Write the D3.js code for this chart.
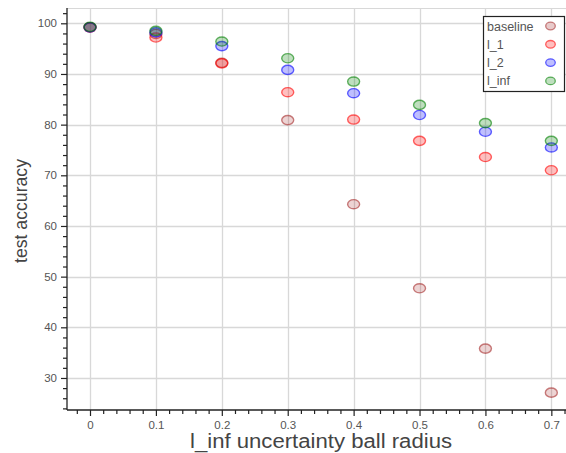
<!DOCTYPE html>
<html><head><meta charset="utf-8">
<script src="https://cdn.jsdelivr.net/npm/d3@7"></script>
<style>body{margin:0;background:#fff}svg{display:block;font-family:"Liberation Sans",Arial,Helvetica,sans-serif}</style>
</head><body><svg id="c" width="566" height="453"></svg>
<script>
const radii = [0, 0.1, 0.2, 0.3, 0.4, 0.5, 0.6, 0.7];
const baseline = [99.2, 97.9, 92.2, 80.9, 64.3, 47.7, 35.8, 27.1];
const l1 = [99.2, 97.2, 92.1, 86.4, 81.0, 76.8, 73.6, 71.0];
const l2 = [99.2, 98.2, 95.5, 90.8, 86.2, 81.9, 78.6, 75.5];
const linf = [99.3, 98.5, 96.4, 93.1, 88.5, 83.9, 80.3, 76.8];
const seriesNames = ["baseline", "l_1", "l_2", "l_inf"];
const seriesColors = ["#a52a2a", "#ff0000", "#0000ff", "#008000"];
const xTicks = [0, 0.1, 0.2, 0.3, 0.4, 0.5, 0.6, 0.7];
const xTickLabels = ["0", "0.1", "0.2", "0.3", "0.4", "0.5", "0.6", "0.7"];
const yTicks = [30, 40, 50, 60, 70, 80, 90, 100];
const yTickLabels = ["30", "40", "50", "60", "70", "80", "90", "100"];
const xLabel = "l_inf uncertainty ball radius";
const yLabel = "test accuracy";

const series = [baseline, l1, l2, linf];
const svg = d3.select("#c");
const L = 67, R = 575, T = 8, B = 410;
const x = d3.scaleLinear().domain([-0.0349, 0.7359]).range([L, R]);
const y = d3.scaleLinear().domain([23.68, 103.02]).range([B, T]);

// grid
const g = svg.append("g");
g.selectAll("line.vg").data(xTicks).join("line")
  .attr("x1", d => Math.round(x(d)) + 0.5).attr("x2", d => Math.round(x(d)) + 0.5)
  .attr("y1", T).attr("y2", B).attr("stroke", "#d8d8d8").attr("stroke-width", 1.3);
g.selectAll("line.hg").data(yTicks).join("line")
  .attr("y1", d => Math.round(y(d)) + 0.5).attr("y2", d => Math.round(y(d)) + 0.5)
  .attr("x1", L).attr("x2", R).attr("stroke", "#d8d8d8").attr("stroke-width", 1.3);
// frame top
svg.append("line").attr("x1", L).attr("x2", R).attr("y1", T + 0.5).attr("y2", T + 0.5).attr("stroke", "#d8d8d8");

// axes
const xAxis = d3.axisBottom(x).tickValues(xTicks).tickFormat((d, i) => xTickLabels[i]).tickSize(6).tickPadding(5);
const xMinor = d3.axisBottom(x).tickValues(d3.range(-0.02, 0.74, 0.02).filter(v => Math.abs(v * 10 - Math.round(v * 10)) > 1e-6)).tickFormat("").tickSize(4);
const yAxis = d3.axisLeft(y).tickValues(yTicks).tickFormat((d, i) => yTickLabels[i]).tickSize(6).tickPadding(4);
const yMinor = d3.axisLeft(y).tickValues(d3.range(24, 103, 2).filter(v => v % 10 !== 0)).tickFormat("").tickSize(4);

function style(sel) {
  sel.select(".domain").remove();
  sel.selectAll("line").attr("stroke", "#222").attr("stroke-width", 1.2);
  sel.selectAll("text").attr("fill", "#555").attr("font-size", 11.5)
     .attr("font-family", '"Liberation Sans", Arial, sans-serif');
}
svg.append("g").attr("transform", `translate(0,${B})`).call(xAxis).call(style);
svg.append("g").attr("transform", `translate(0,${B})`).call(xMinor).call(style);
svg.append("g").attr("transform", `translate(${L},0)`).call(yAxis).call(style);
svg.append("g").attr("transform", `translate(${L},0)`).call(yMinor).call(style);
svg.append("line").attr("x1", L).attr("x2", R).attr("y1", B).attr("y2", B).attr("stroke", "#222").attr("stroke-width", 1.3);
svg.append("line").attr("x1", L).attr("x2", L).attr("y1", T).attr("y2", B).attr("stroke", "#222").attr("stroke-width", 1.3);

// labels
svg.append("text").attr("x", 321).attr("y", 448).attr("text-anchor", "middle")
  .attr("font-size", 20).attr("fill", "#444").attr("textLength", 262).attr("lengthAdjust", "spacingAndGlyphs").text(xLabel);
svg.append("text").attr("transform", `translate(27,${(T + B) / 2 + 2}) rotate(-90)`).attr("text-anchor", "middle")
  .attr("font-size", 19).attr("fill", "#444").attr("textLength", 104).attr("lengthAdjust", "spacingAndGlyphs").text(yLabel);

// points
series.forEach((vals, si) => {
  svg.append("g").selectAll("ellipse").data(radii).join("ellipse")
    .attr("cx", (d) => x(d)).attr("cy", (d, i) => y(vals[i]))
    .attr("rx", 6).attr("ry", 4.6)
    .attr("fill", seriesColors[si]).attr("fill-opacity", si === 0 ? 0.2 : 0.25)
    .attr("stroke", seriesColors[si]).attr("stroke-opacity", 0.6).attr("stroke-width", 1.4);
});

// legend
const lg = svg.append("g");
lg.append("rect").attr("x", 483.5).attr("y", 16.5).attr("width", 81).attr("height", 75)
  .attr("fill", "#fff").attr("stroke", "#222").attr("stroke-width", 1.2);
seriesNames.forEach((n, i) => {
  const yy = 26 + i * 18.3;
  lg.append("text").attr("x", 487).attr("y", yy + 4.5).attr("font-size", 12.5).attr("fill", "#555").text(n);
  lg.append("ellipse").attr("cx", 550.5).attr("cy", yy).attr("rx", 4.8).attr("ry", 3.8)
    .attr("fill", seriesColors[i]).attr("fill-opacity", 0.25)
    .attr("stroke", seriesColors[i]).attr("stroke-opacity", 0.6).attr("stroke-width", 1.3);
});
</script></body></html>
